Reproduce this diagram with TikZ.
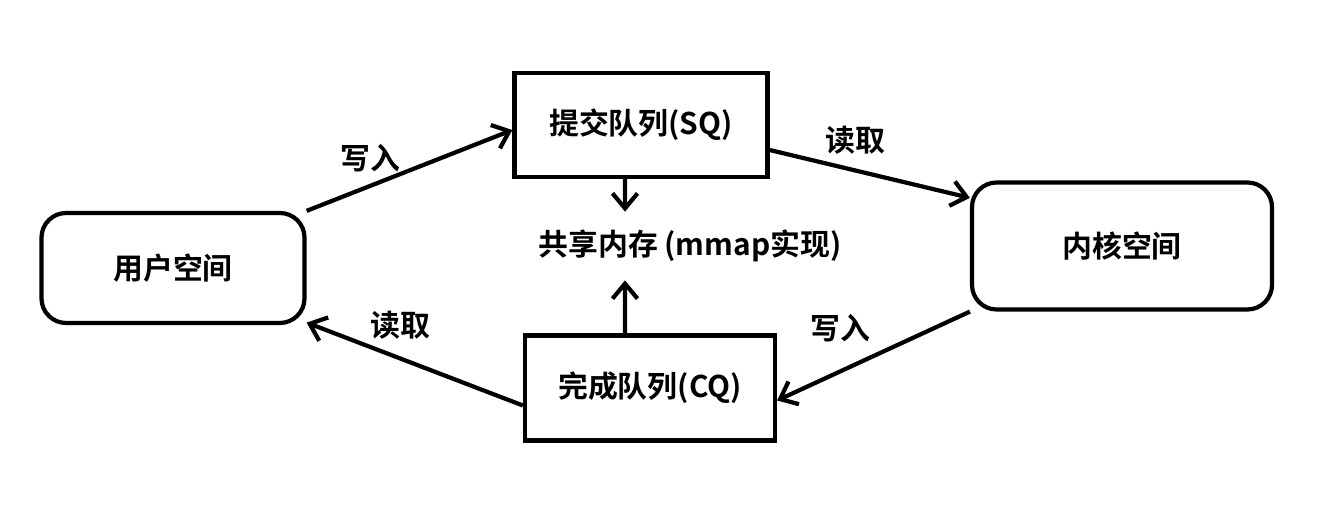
\documentclass[tikz,border=0pt]{standalone}
\usepackage{fontspec}
\newfontfamily\cjk{Noto Sans CJK SC Bold}
\usetikzlibrary{arrows.meta}
\tikzset{>={Straight Barb[length=3mm,width=5mm]}}

\begin{document}
\begin{tikzpicture}[font=\cjk\fontsize{17}{19}\selectfont,
  space/.style={draw, line width=2.4pt, rounded corners=14pt},
  queue/.style={draw, line width=2.4pt},
  flow/.style={->, line width=2.4pt}]
  \useasboundingbox (0,0) rectangle (26.68,10.26);
  % boxes
  \node[space, minimum width=5.26cm, minimum height=2.2cm] (user) at (3.46,4.9) {用户空间\hspace{0.6cm}};
  \node[space, minimum width=6cm, minimum height=2.54cm] (kernel) at (22.44,5.34) {内核空间};
  \node[queue, minimum width=5.06cm, minimum height=2.08cm] (sq) at (12.82,7.76) {提交队列(SQ)};
  \node[queue, minimum width=5cm, minimum height=2.1cm] (cq) at (13.0,2.5) {完成队列(CQ)};
  \node[minimum height=1.36cm] (mem) at (13.8,5.34) {共享内存 (mmap实现)};
  % arrows
  \draw[flow] (user.north east) -- ([yshift=-0.1cm]sq.west);
  \draw[flow] ([yshift=-0.5cm]sq.east) -- ([yshift=-0.35cm]kernel.north west);
  \draw[flow] (kernel.south west) -- ([yshift=-0.25cm]cq.east);
  \draw[flow] ([yshift=-0.35cm]cq.west) -- ([yshift=0.05cm]user.south east);
  \draw[flow] ([xshift=-0.32cm]sq.south) -- ([xshift=-1.3cm]mem.north);
  \draw[flow] ([xshift=-0.5cm]cq.north) -- ([xshift=-1.3cm]mem.south);
  % labels
  \node (w1) at (7.4,7.1) {写入};
  \node (r1) at (17.1,7.45) {读取};
  \node (w2) at (16.8,3.7) {写入};
  \node (r2) at (8.0,3.75) {读取};
\end{tikzpicture}
\end{document}
